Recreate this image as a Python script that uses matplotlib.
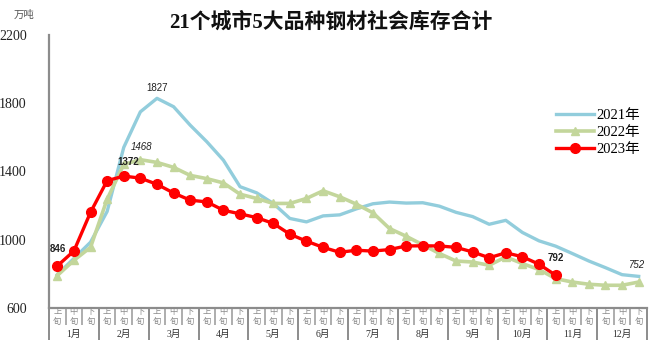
import matplotlib
matplotlib.use("Agg")
import matplotlib.pyplot as plt
import numpy as np
from matplotlib.ticker import FixedLocator, NullFormatter

plt.rcParams['font.family'] = ['Liberation Serif', 'Noto Sans CJK SC', 'DejaVu Sans']

# data (万吨), one value per 旬
months = ['%d月' % m for m in range(1, 13)]
parts = ['上\n旬', '中\n旬', '下\n旬']

inv_2021 = [795, 890, 985, 1165, 1540, 1748, 1827, 1778, 1670, 1573, 1465, 1310,
            1274, 1212, 1124, 1104, 1139, 1145, 1180, 1210, 1220, 1214, 1216, 1196,
            1160, 1135, 1090, 1113, 1042, 993, 962, 919, 875, 836, 795, 785]
inv_2022 = [790, 879, 955, 1237, 1440, 1468, 1452, 1423, 1376, 1357, 1332, 1266,
            1241, 1212, 1212, 1241, 1286, 1251, 1208, 1157, 1065, 1020, 970, 919,
            875, 869, 850, 899, 860, 825, 772, 752, 739, 733, 733, 752]
inv_2023 = [846, 934, 1160, 1345, 1372, 1360, 1324, 1273, 1231, 1221, 1172, 1151,
            1129, 1095, 1032, 991, 955, 926, 938, 933, 942, 963, 964, 963,
            955, 928, 894, 923, 900, 856, 792]

fig = plt.figure(figsize=(6.6, 3.48), dpi=100)
ax = fig.add_axes([49/660, 1-308/348, 598/660, 273.4/348])

x21 = np.arange(len(inv_2021))
x22 = np.arange(len(inv_2022))
x23 = np.arange(len(inv_2023))

ax.plot(x21, inv_2021, color='#92CDDC', lw=2.4, label='2021年', solid_joinstyle='round')
ax.plot(x22, inv_2022, color='#C3D69B', lw=2.6, marker='^', ms=6,
        label='2022年', solid_joinstyle='round')
ax.plot(x23, inv_2023, color='#FF0000', lw=2.4, marker='o', ms=7,
        label='2023年', solid_joinstyle='round')

ax.set_xlim(-0.5, 35.5)
ax.set_ylim(600, 2200)
ax.set_yticks([600, 1000, 1400, 1800, 2200])
ax.tick_params(axis='y', length=0, pad=16, labelsize=10, labelcolor='#222222')

for s in ['top', 'right']:
    ax.spines[s].set_visible(False)
for s in ['left', 'bottom']:
    ax.spines[s].set_color('#8c8c8c')
    ax.spines[s].set_linewidth(1.6)

# separators between 旬 and months
bounds = np.arange(-0.5, 36, 1)
month_b = bounds[::3]
minor_b = [b for b in bounds if b not in month_b]
ax.xaxis.set_major_locator(FixedLocator(month_b))
ax.xaxis.set_minor_locator(FixedLocator(minor_b))
ax.xaxis.set_major_formatter(NullFormatter())
ax.tick_params(axis='x', which='major', length=23, width=1.4, color='#8c8c8c')
ax.tick_params(axis='x', which='minor', length=12.5, width=1.2, color='#a0a0a0')

trans = ax.get_xaxis_transform()
for i in range(36):
    ax.text(i, -0.030, parts[i % 3], transform=trans, ha='center', va='center',
            fontsize=6, color='#8a8a8a', linespacing=1.1,
            family=['Noto Sans CJK SC', 'DejaVu Sans'])
for m in range(12):
    ax.text(3*m + 1, -0.097, months[m], transform=trans, ha='center', va='center',
            fontsize=7, color='#333333')

# value labels
ax.annotate('1827', (6, inv_2021[6]), xytext=(0, 10), textcoords='offset pixels',
            ha='center', va='center', fontsize=7, family='Liberation Sans', color='#222222')
ax.annotate('1468', (5, inv_2022[5]), xytext=(1, 13), textcoords='offset pixels',
            ha='center', va='center', fontsize=7, family='Liberation Sans',
            style='italic', color='#222222')
ax.annotate('1372', (4, inv_2023[4]), xytext=(4, 14), textcoords='offset pixels',
            ha='center', va='center', fontsize=7, family='Liberation Sans',
            weight='bold', color='#222222')
ax.annotate('846', (0, inv_2023[0]), xytext=(1, 17), textcoords='offset pixels',
            ha='center', va='center', fontsize=7, family='Liberation Sans',
            weight='bold', color='#222222')
ax.annotate('792', (30, inv_2023[30]), xytext=(0, 17), textcoords='offset pixels',
            ha='center', va='center', fontsize=7, family='Liberation Sans',
            weight='bold', color='#222222')
ax.annotate('752', (35, inv_2022[35]), xytext=(-2, 17), textcoords='offset pixels',
            ha='center', va='center', fontsize=7, family='Liberation Sans',
            style='italic', color='#222222')

fig.text(331/660, 1-22/348, '21个城市5大品种钢材社会库存合计', ha='center', va='center',
         fontsize=15, weight='bold', color='#111111')
fig.text(24/660, 1-15/348, '万吨', ha='center', va='center', fontsize=7.5,
         color='#555555', family=['Noto Sans CJK SC', 'DejaVu Sans'])

fig.legend(loc='upper left', bbox_to_anchor=(556/660, 1-109/348), frameon=False,
           fontsize=10.5, handlelength=2.6, handletextpad=0.15, labelspacing=0.25,
           borderpad=0, borderaxespad=0)

fig.savefig('out.png', dpi=100)
